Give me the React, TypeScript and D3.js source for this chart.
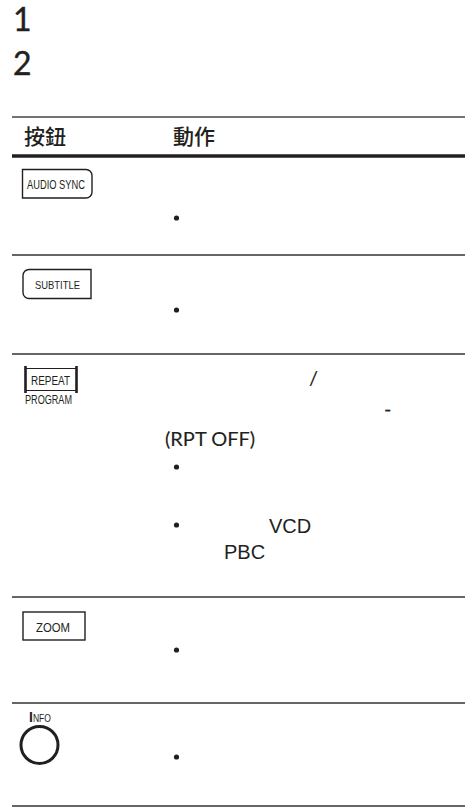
import React, { useEffect, useRef } from "react";
import * as d3 from "d3";

const width = 465;
const height = 809;

// content
const stepNumbers = ["1", "2"];
const headerLabels = ["按鈕", "動作"];
const buttonLabels = ["AUDIO SYNC", "SUBTITLE", "REPEAT", "ZOOM", "INFO"];
const buttonSubLabels = ["", "", "PROGRAM", "", ""];
const bulletsPerRow = [1, 1, 2, 1, 1];
const repeatFragments = ["/", "-", "(RPT OFF)"];
const pbcFragments = ["VCD", "PBC"];

const ink = "#231f20";
const latin = "Lato, 'Open Sans', sans-serif";
const narrow = "'Liberation Sans Narrow', 'Liberation Sans', Arial, sans-serif";
const cjk = "'Noto Sans CJK TC', 'Noto Sans CJK SC', sans-serif";

const App = () => {
  const svgRef = useRef<SVGSVGElement>(null);

  useEffect(() => {
    const svg = d3.select(svgRef.current);
    svg.selectAll("*").remove();

    // row edges of the table (header bottom rule, then each row)
    const rowEdges = [156, 255, 354, 597, 703, 806];
    const bulletOffsets = [[62], [55], [113, 171], [53], [54]];
    const colX = d3.scaleOrdinal<string, number>().domain(headerLabels).range([24, 173]);
    const stepY = d3.scalePoint<string>().domain(stepNumbers).range([31, 75]);

    // step numbers
    svg
      .selectAll(".step")
      .data(stepNumbers)
      .enter()
      .append("text")
      .attr("class", "step")
      .attr("x", 13)
      .attr("y", (d) => stepY(d))
      .attr("font-family", latin)
      .attr("font-size", 32)
      .attr("fill", ink)
      .attr("stroke", ink)
      .attr("stroke-width", 0.4)
      .text((d) => d);

    // header
    svg
      .append("line")
      .attr("x1", 12)
      .attr("x2", width)
      .attr("y1", 117)
      .attr("y2", 117)
      .attr("stroke", "#444")
      .attr("stroke-width", 1.5);

    svg
      .selectAll(".head")
      .data(headerLabels)
      .enter()
      .append("text")
      .attr("class", "head")
      .attr("x", (d) => colX(d))
      .attr("y", 144)
      .attr("font-family", cjk)
      .attr("font-size", 21)
      .attr("font-weight", 500)
      .attr("fill", ink)
      .text((d) => d);

    svg
      .append("line")
      .attr("x1", 12)
      .attr("x2", width)
      .attr("y1", rowEdges[0])
      .attr("y2", rowEdges[0])
      .attr("stroke", ink)
      .attr("stroke-width", 3.5);

    // row rules
    svg
      .selectAll(".rule")
      .data(rowEdges.slice(1))
      .enter()
      .append("line")
      .attr("class", "rule")
      .attr("x1", 12)
      .attr("x2", width)
      .attr("y1", (d) => d)
      .attr("y2", (d) => d)
      .attr("stroke", "#333")
      .attr("stroke-width", 1.5);

    // bullets
    const bullets = bulletsPerRow.flatMap((n, i) =>
      d3.range(n).map((j) => rowEdges[i] + bulletOffsets[i][j])
    );
    svg
      .selectAll(".bullet")
      .data(bullets)
      .enter()
      .append("circle")
      .attr("class", "bullet")
      .attr("cx", 176.5)
      .attr("cy", (d) => d)
      .attr("r", 2.6)
      .attr("fill", ink);

    // buttons
    const btnText = (
      label: string,
      x: number,
      y: number,
      size: number,
      len: number
    ) =>
      svg
        .append("text")
        .attr("x", x)
        .attr("y", y)
        .attr("font-family", narrow)
        .attr("font-size", size)
        .attr("fill", ink)
        .attr("textLength", len)
        .attr("lengthAdjust", "spacingAndGlyphs")
        .text(label);

    // AUDIO SYNC: right side rounded
    svg
      .append("path")
      .attr("d", "M22.5,169.5 H86 a6,6 0 0 1 6,6 V192 a6,6 0 0 1 -6,6 H22.5 Z")
      .attr("fill", "none")
      .attr("stroke", ink)
      .attr("stroke-width", 1.4);
    btnText(buttonLabels[0], 27, 188.5, 12, 58);

    // SUBTITLE: left side rounded
    svg
      .append("path")
      .attr("d", "M29,269.5 H91 V298.5 H29 a6,6 0 0 1 -6,-6 V275.5 a6,6 0 0 1 6,-6 Z")
      .attr("fill", "none")
      .attr("stroke", ink)
      .attr("stroke-width", 1.4);
    btnText(buttonLabels[1], 35, 289, 11.5, 45);

    // REPEAT / PROGRAM: bracketed box
    svg
      .append("path")
      .attr("d", "M25,368.5 H77 M25,390.5 H77")
      .attr("stroke", ink)
      .attr("stroke-width", 1.2);
    svg
      .append("path")
      .attr("d", "M25.5,366 V393 M76.5,366 V393")
      .attr("stroke", ink)
      .attr("stroke-width", 2.6);
    btnText(buttonLabels[2], 31, 384.5, 12, 39);
    btnText(buttonSubLabels[2], 25, 403.5, 12, 47);

    // ZOOM
    svg
      .append("rect")
      .attr("x", 23)
      .attr("y", 612)
      .attr("width", 62)
      .attr("height", 28)
      .attr("fill", "none")
      .attr("stroke", ink)
      .attr("stroke-width", 1.4);
    btnText(buttonLabels[3], 36, 632, 13, 34);

    // INFO: round key with small-caps label
    const info = svg
      .append("text")
      .attr("x", 29)
      .attr("y", 722)
      .attr("font-family", narrow)
      .attr("fill", ink);
    info
      .append("tspan")
      .attr("font-size", 14)
      .attr("font-weight", "bold")
      .text(buttonLabels[4].slice(0, 1));
    info
      .append("tspan")
      .attr("font-size", 11.5)
      .attr("textLength", 18)
      .attr("lengthAdjust", "spacingAndGlyphs")
      .text(buttonLabels[4].slice(1));
    svg
      .append("circle")
      .attr("cx", 39.5)
      .attr("cy", 745)
      .attr("r", 18.5)
      .attr("fill", "none")
      .attr("stroke", ink)
      .attr("stroke-width", 3);

    // remaining Latin fragments of the REPEAT row
    const repeatPos = [
      [309, 385],
      [384, 416],
      [165, 446],
    ];
    svg
      .selectAll(".frag")
      .data(repeatFragments)
      .enter()
      .append("text")
      .attr("class", "frag")
      .attr("x", (_, i) => repeatPos[i][0])
      .attr("y", (_, i) => repeatPos[i][1])
      .attr("font-family", latin)
      .attr("font-size", 20)
      .attr("fill", ink)
      .attr("stroke", ink)
      .attr("stroke-width", 0.12)
      .text((d) => d);

    const pbcPos = [
      [269, 533],
      [224, 559],
    ];
    svg
      .selectAll(".pbc")
      .data(pbcFragments)
      .enter()
      .append("text")
      .attr("class", "pbc")
      .attr("x", (_, i) => pbcPos[i][0])
      .attr("y", (_, i) => pbcPos[i][1])
      .attr("font-family", "'Liberation Sans', Arial, sans-serif")
      .attr("font-size", 20)
      .attr("fill", ink)
      .text((d) => d);
  }, []);

  return (
    <svg
      ref={svgRef}
      width={width}
      height={height}
      style={{ position: "absolute", left: 0, top: 0, background: "#fff" }}
    />
  );
};

export default App;
